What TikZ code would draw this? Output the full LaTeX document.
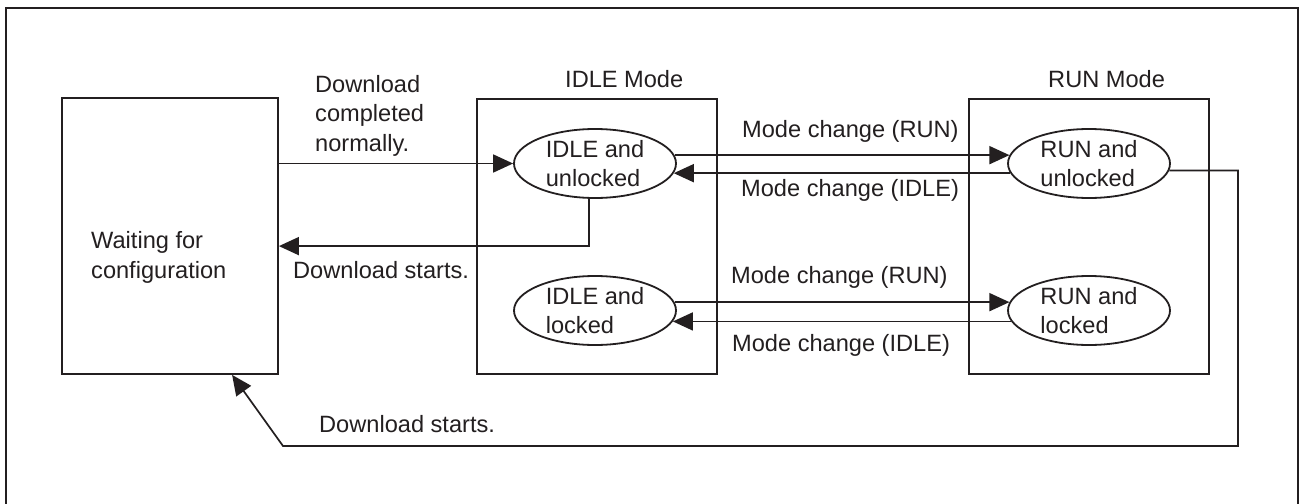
\documentclass[tikz,border=0pt]{standalone}
\usepackage{fontspec}
\setmainfont{Liberation Sans}
\usetikzlibrary{shapes.geometric,arrows.meta,calc}
\definecolor{ink}{RGB}{35,31,32}
\begin{document}
\begin{tikzpicture}[x=1pt,y=-1pt, line join=miter,
  every node/.style={font=\fontsize{23.6}{29.5}\selectfont, text=ink},
  box/.style={draw=ink, line width=1.8pt, rectangle, inner sep=0pt},
  st/.style={draw=ink, line width=1.8pt, ellipse, inner sep=0pt, minimum width=162pt, minimum height=69pt, align=left},
  lbl/.style={anchor=base west, inner sep=0pt, align=left},
  arr/.style={draw=ink, line width=1.7pt, -{Triangle[length=20pt,width=18pt]}}]
\clip (0,0) rectangle (1300,503);
\fill[white] (0,0) rectangle (1300,503);
\draw[ink, line width=2.2pt] (6,8) rectangle (1298,520);
% boxes
\node[box, minimum width=216pt, minimum height=276pt] (WB) at (170,236) {};
\node[box, minimum width=240pt, minimum height=275pt] (IM) at (597,236.5) {};
\node[box, minimum width=240pt, minimum height=275pt] (RM) at (1089,236.5) {};
% states
\node[st] (IU) at (595,163.5) {IDLE and\\unlocked};
\node[st] (RU) at (1089,163.5) {RUN and\\unlocked};
\node[st] (IL) at (595,310.5) {IDLE and\\locked};
\node[st] (RL) at (1089,310.5) {RUN and\\locked};
% labels
\node[lbl] (tw) at (91,278) {Waiting for\\configuration};
\node[lbl] (tim) at (565,88) {IDLE Mode};
\node[lbl] (trm) at (1048,88) {RUN Mode};
\node[lbl] (tdc) at (315,151) {Download\\completed\\normally.};
\node[lbl] (tds1) at (293,278) {Download starts.};
\node[lbl] (tds2) at (319,432) {Download starts.};
\node[lbl] (tr1) at (742,137) {Mode change (RUN)};
\node[lbl] (ti1) at (741,196) {Mode change (IDLE)};
\node[lbl] (tr2) at (731,283) {Mode change (RUN)};
\node[lbl] (ti2) at (732,351) {Mode change (IDLE)};
% connectors
\coordinate (c1) at (1238,446);
\coordinate (c2) at (283,446);
\draw[arr] (IU.west -| WB.east) -- (IU.west);
\draw[arr] ([xshift=-6pt]IU.south) |- ([yshift=-149pt]WB.north east);
\draw[arr] (IU.6) -- (RU.174);
\draw[arr] (RU.187.5) -- (IU.-7.5);
\draw[arr] (IL.6) -- (RL.174);
\draw[arr] (RL.188.3) -- (IL.-8.3);
\draw[arr] (RU.-5.7) -| (c1) -- (c2) -- ([xshift=171pt]WB.south west);
\end{tikzpicture}
\end{document}
